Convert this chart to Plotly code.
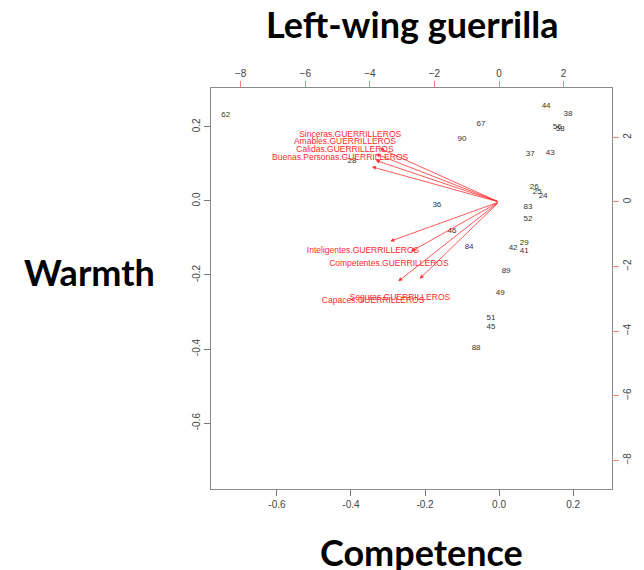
import plotly.graph_objects as go

# --- Scores (observations), main axes (bottom / left) ---
obs_labels = ["62", "44", "38", "56", "58", "67", "90", "37", "43", "28",
              "26", "25", "24", "36", "83", "52", "46", "84", "42", "29",
              "41", "89", "49", "51", "45", "88"]
obs_x = [-0.738, 0.127, 0.186, 0.157, 0.165, -0.049, -0.100, 0.084, 0.138, -0.397,
         0.095, 0.103, 0.119, -0.168, 0.078, 0.078, -0.127, -0.081, 0.038, 0.068,
         0.068, 0.019, 0.003, -0.022, -0.022, -0.062]
obs_y = [0.232, 0.257, 0.235, 0.200, 0.195, 0.208, 0.168, 0.127, 0.130, 0.108,
         0.038, 0.024, 0.014, -0.011, -0.016, -0.049, -0.081, -0.124, -0.127, -0.114,
         -0.135, -0.189, -0.249, -0.316, -0.341, -0.397]

# --- Loadings (variables), secondary axes (top / right) ---
var_labels = ["Sinceras.GUERRILLEROS", "Amables.GUERRILLEROS", "Calidas.GUERRILLEROS",
              "Buenas.Personas.GUERRILLEROS", "Inteligentes.GUERRILLEROS",
              "Competentes.GUERRILLEROS", "Capaces.GUERRILLEROS", "Seguras.GUERRILLEROS"]
var_x = [-4.61, -4.77, -4.77, -4.92, -4.21, -3.41, -3.90, -3.07]
var_y = [2.07, 1.86, 1.61, 1.36, -1.52, -1.92, -3.07, -2.97]
arrow_scale = 0.8

# --- Tick labels ---
bottom_ticks = [-0.6, -0.4, -0.2, 0.0, 0.2]
bottom_text = ["-0.6", "-0.4", "-0.2", "0.0", "0.2"]
left_ticks = [-0.6, -0.4, -0.2, 0.0, 0.2]
left_text = ["-0.6", "-0.4", "-0.2", "0.0", "0.2"]
top_ticks = [-8, -6, -4, -2, 0, 2]
right_ticks = [-8, -6, -4, -2, 0, 2]

main_range = [-0.778, 0.305]
sec_range_x = [-8.92, 3.50]
sec_range_y = [-8.89, 3.53]

fig = go.Figure()

fig.add_trace(go.Scatter(
    x=obs_x, y=obs_y, text=obs_labels, mode="text",
    textfont=dict(family="Liberation Sans, Arial, sans-serif", size=8, color="#333333"),
    textposition="middle center", hoverinfo="skip", showlegend=False,
    xaxis="x", yaxis="y"))

fig.add_trace(go.Scatter(
    x=var_x, y=var_y, text=var_labels, mode="text",
    textfont=dict(family="Liberation Sans, Arial, sans-serif", size=8.5, color="#ff2a2a"),
    textposition="middle center", hoverinfo="skip", showlegend=False,
    xaxis="x2", yaxis="y2"))

annotations = []
for vx, vy in zip(var_x, var_y):
    annotations.append(dict(
        x=vx * arrow_scale, y=vy * arrow_scale, ax=0, ay=0,
        xref="x2", yref="y2", axref="x2", ayref="y2",
        text="", showarrow=True, arrowhead=2, arrowsize=1.0,
        arrowwidth=0.8, arrowcolor="#ff3030", standoff=0, startstandoff=0))

title_font = dict(family="Lato, Open Sans, sans-serif", size=36, color="#000000")
annotations += [
    dict(text="<b>Left-wing guerrilla</b>", x=0.501, y=1.16, xref="paper", yref="paper",
         showarrow=False, font=title_font, xanchor="center", yanchor="middle"),
    dict(text="<b>Warmth</b>", x=-0.302, y=0.541, xref="paper", yref="paper",
         showarrow=False, font=title_font, xanchor="center", yanchor="middle"),
    dict(text="<b>Competence</b>", x=0.524, y=-0.157, xref="paper", yref="paper",
         showarrow=False, font=title_font, xanchor="center", yanchor="middle"),
]

tick_font = dict(family="Liberation Sans, Arial, sans-serif", size=10, color="#444444")
axis_common = dict(showgrid=False, zeroline=False, showline=True, linecolor="#8a8a8a",
                   linewidth=1.2, ticks="outside", ticklen=6, tickfont=tick_font)

# The page body has an 8px default margin, so the layout is offset by -8px.
fig.update_layout(
    width=644, height=570,
    margin=dict(l=203, r=40, t=80, b=89),
    paper_bgcolor="white", plot_bgcolor="white",
    annotations=annotations,
    xaxis=dict(range=main_range, tickvals=bottom_ticks, ticktext=bottom_text,
               tickcolor="#777777", side="bottom", **axis_common),
    yaxis=dict(range=main_range, tickvals=left_ticks, ticktext=left_text,
               tickcolor="#777777", tickangle=-90, side="left", **axis_common),
    xaxis2=dict(range=sec_range_x, tickvals=top_ticks, overlaying="x", side="top",
                tickcolor="#ff8080", anchor="y", **axis_common),
    yaxis2=dict(range=sec_range_y, tickvals=right_ticks, overlaying="y", side="right",
                tickcolor="#ff8080", tickangle=-90, anchor="x", **axis_common),
)

fig.write_html("out.html")
